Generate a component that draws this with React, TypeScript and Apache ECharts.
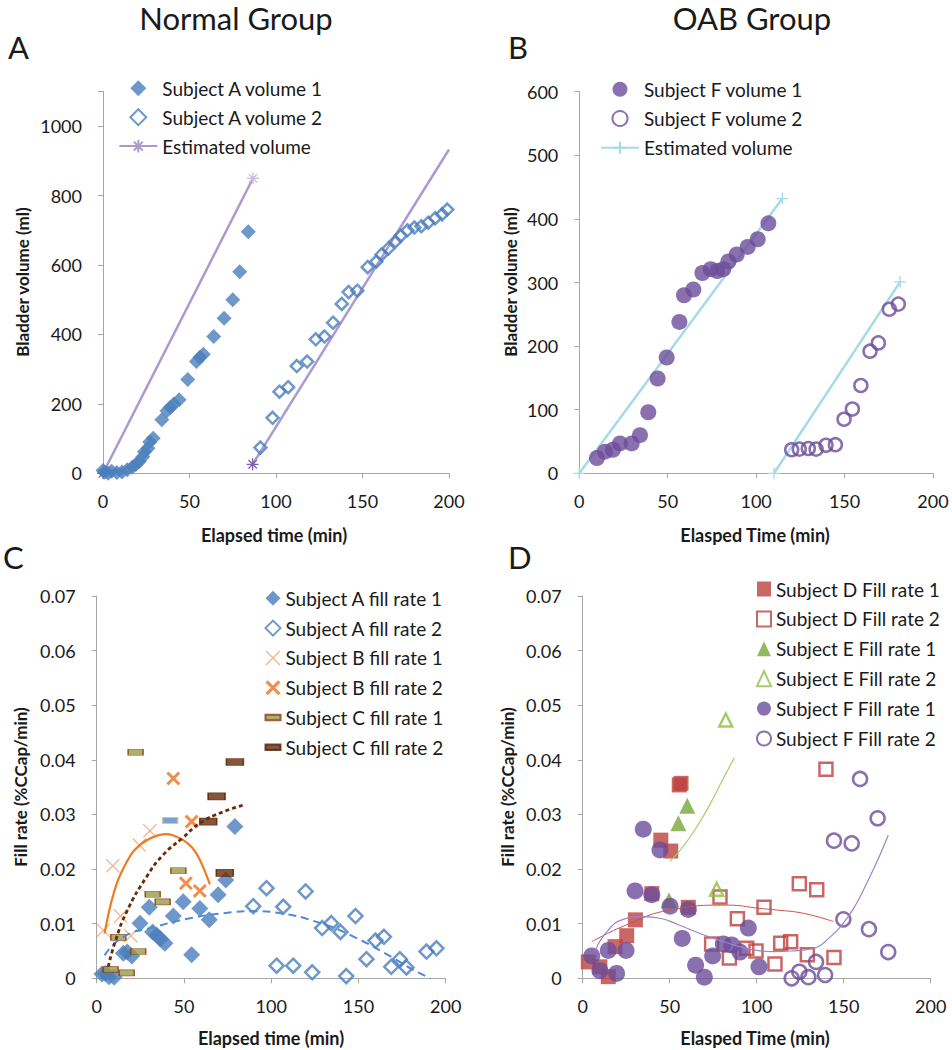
import React, { useEffect, useRef } from 'react';
import * as echarts from 'echarts';

const FONT = 'Lato, "Liberation Sans", Arial, sans-serif';
const TXT = '#1a1a1a';
const AXIS = '#a6a6a6';

// ---------- Panel A : Normal group volumes ----------
const volA1 = [[0,8],[1,3],[3,0],[5,6],[8,2],[11,4],[14,10],[17,18],[19,25],[21,34],[23,48],[24,62],[26,72],[27,90],[29,101],[34,154],[37,180],[39,190],[41,200],[44,212],[49,270],[54,322],[56,334],[58,343],[64,394],[70,447],[75,500],[79,581],[84,696]];
const volA2 = [[91,74],[98,160],[102,235],[107,248],[112,309],[118,322],[123,386],[128,394],[133,434],[138,488],[142,522],[147,526],[153,594],[158,610],[161,630],[165,648],[169,668],[172,684],[176,700],[180,708],[184,712],[188,722],[192,735],[196,746],[199,760]];
const estA1 = [[0,0],[86.7,850]];
const estA2 = [[86.5,26],[200,933]];

// ---------- Panel B : OAB group volumes ----------
const volF1 = [[10,24],[14.5,34],[19,37],[23,47],[29.6,47],[34.3,60],[39,96],[44.3,149],[49.4,182],[56.6,238],[59.2,280],[64.5,289],[69.6,315],[74.3,321],[78,318],[81.4,321],[84.3,333],[89,344],[95.2,356],[100.9,368],[106.9,393]];
const volF2 = [[120.1,37],[124.4,38],[129.5,39],[133.9,38],[139.5,44],[144.8,45],[149.7,85],[154.4,101],[159.2,138],[164.4,192],[169.1,205],[175.3,258],[180.4,266]];
const estB1 = [[0,0],[114.8,432]];
const estB2 = [[110.1,0],[181.4,301]];

// ---------- Panel C : Normal group fill rates ----------
const frA1 = [[3,0.0008],[5,0.0009],[7,0.0003],[10,0.0002],[15.3,0.0046],[17.5,0.0048],[20.1,0.0041],[24.8,0.0101],[30.1,0.013],[32,0.0085],[34.4,0.0079],[36.5,0.0072],[39.1,0.0064],[43.9,0.0114],[49.6,0.014],[54.4,0.0043],[59.1,0.0128],[64.5,0.0107],[69.6,0.0153],[74,0.018],[79.2,0.0278]];
const frA2 = [[89.7,0.0132],[97.3,0.0165],[103.1,0.0023],[106.9,0.0131],[112.6,0.0023],[119.7,0.0159],[123.5,0.0011],[129.2,0.0092],[134.4,0.0101],[139.7,0.0085],[143,0.0004],[148.3,0.0114],[154.6,0.0035],[159.8,0.0069],[164.6,0.0076],[168.8,0.0021],[173.7,0.0035],[177.5,0.002],[189,0.0049],[194.7,0.0055]];
const frB1 = [[3.8,0.0088],[9.2,0.0206],[13.7,0.0114],[19.5,0.0078],[24.4,0.0244],[30.5,0.027]];
const frB2 = [[43.9,0.0366],[51.1,0.0174],[54.4,0.0287],[59.1,0.016]];
const frC1 = [[8,0.0016],[12.4,0.0075],[17.2,0.001],[22.3,0.0414],[23.8,0.0049],[32.1,0.0154],[37.8,0.014],[42.1,0.0289],[46.8,0.0197]];
const frC2 = [[63.9,0.0287],[68.7,0.0333],[73.4,0.0193],[79.2,0.0396]];
const trendA = [[4.5,0.0042],[15.3,0.0076],[34.4,0.0095],[53.5,0.011],[72.6,0.0119],[90,0.0123],[103.5,0.012],[128.3,0.0101],[147.4,0.0076],[168.4,0.004],[181.7,0.0015],[191.3,0]];
const trendB = [[4.5,0.0082],[8,0.0135],[12,0.0178],[17,0.0212],[22,0.0236],[30.5,0.0256],[40.1,0.0264],[49.6,0.0253],[55,0.0238],[59.1,0.0217],[64.9,0.0172]];
const trendC = [[6.6,0.0021],[10.5,0.0066],[17.2,0.0122],[28.6,0.0186],[38.1,0.0226],[49.6,0.0258],[59.1,0.0284],[72.6,0.0305],[84.1,0.0317]];

// ---------- Panel D : OAB group fill rates ----------
const frD1 = [[3.2,0.003],[9.9,0.0021],[14.7,0.0003],[18.6,0.0058],[25.3,0.0078],[30.3,0.0107],[39.7,0.0155],[44.9,0.0253],[50.6,0.0233],[55.5,0.0354],[56.5,0.0357],[60.7,0.013]];
const frD2 = [[74.1,0.0063],[78.9,0.0149],[84.3,0.0037],[88.9,0.0109],[94.3,0.0055],[99.6,0.005],[104.2,0.013],[110.5,0.0026],[113.8,0.0064],[119.5,0.0067],[124.5,0.0173],[129.1,0.0043],[134.5,0.0162],[139.8,0.0383],[144.4,0.0038]];
const frE1 = [[49.6,0.0143],[55,0.0284],[60.1,0.0316]];
const frE2 = [[77,0.0163],[82.2,0.0473]];
const frF1 = [[5.2,0.0041],[9.9,0.0014],[14.7,0.0051],[19.5,0.0009],[24.9,0.0051],[30.1,0.016],[34.8,0.0273],[39.7,0.0153],[44.4,0.0235],[50.2,0.0132],[57.2,0.0073],[60.7,0.0126],[64.9,0.0024],[69.9,0.0002],[74.7,0.0041],[80.8,0.0063],[85.6,0.0061],[90.4,0.0048],[95.2,0.0092],[101.3,0.0021]];
const frF2 = [[120.1,0],[124.5,0.0012],[129.7,0.0002],[134.1,0.003],[139.3,0.0006],[144.4,0.0252],[149.8,0.0108],[154.6,0.0247],[159.4,0.0365],[164.5,0.009],[169.5,0.0293],[175.6,0.0048]];
const trendD = [[5.2,0.0067],[25.3,0.0098],[50.2,0.0125],[82.8,0.0134],[101.9,0.0128],[111.5,0.0125],[126.8,0.0119],[144,0.0104]];
const trendE = [[50.2,0.0214],[59.8,0.025],[71.3,0.0308],[80.8,0.0366],[87.1,0.0404]];
const trendF = [[7.1,0.005],[13.8,0.0085],[23.3,0.0108],[35,0.0113],[44.4,0.011],[55,0.0098],[67.4,0.0082],[80,0.0068],[90.4,0.0058],[100,0.0051],[109.5,0.0049],[120,0.005],[132.5,0.0055],[142,0.0075],[149.8,0.0101],[157,0.0135],[163.2,0.0174],[170,0.022],[175.6,0.0262]];

// ---------- colours ----------
const BLUE = '#4a7ebb';
const LAV = '#ab9ad0';
const PURPLE = '#6b4c9a';
const CYAN = '#a5dbe9';
const ORANGE_L = '#f49a62';
const ORANGE = '#ee6f1e';
const OLIVE = '#9a9b45';
const BROWN = '#6a2b0a';
const RED = '#bb413e';
const GREEN = '#77a83a';
const GREEN_L = '#8dc143';
const NOFILL = 'rgba(255,255,255,0)';

function xPath(d: number) {
  return `path://M0,${d}L${d},0L50,${50 - d}L${100 - d},0L100,${d}L${50 + d},50L100,${100 - d}L${100 - d},100L50,${50 + d}L${d},100L0,${100 - d}L${50 - d},50Z`;
}
const STAR = 'path://M5,0V10M0,5H10M1.5,1.5L8.5,8.5M1.5,8.5L8.5,1.5';
const PLUS = 'path://M5,0V10M0,5H10';
const DASH = 'path://M0,0H28V10H0Z';
const DIAMOND_ICON = 'path://M5,0L10,5L5,10L0,5Z';

function buildOption(): any {
  const grids = [
    { left: 103, top: 91.5, width: 346, height: 381.8 },
    { left: 579.3, top: 91.7, width: 353.7, height: 381.6 },
    { left: 96.7, top: 596, width: 349, height: 382.3 },
    { left: 582.7, top: 596, width: 348, height: 382.3 },
  ];
  const baseAxis = {
    type: 'value',
    axisLine: { show: true, onZero: false, lineStyle: { color: AXIS, width: 1 } },
    axisTick: { show: true, length: 5, lineStyle: { color: AXIS } },
    splitLine: { show: false },
  };
  const xAxes = [0, 1, 2, 3].map((i) => ({
    ...baseAxis,
    gridIndex: i,
    min: 0,
    max: 200,
    interval: 50,
    axisLabel: { fontSize: 18, fontFamily: FONT, color: TXT, margin: 19 },
  }));
  const fr = (v: number) => (v === 0 ? '0' : v.toFixed(2));
  const yAxes = [
    { ...baseAxis, gridIndex: 0, min: 0, max: 1100, interval: 200,
      axisLabel: { fontSize: 18, fontFamily: FONT, color: TXT, margin: 21, formatter: (v: number) => (v > 1000 ? '' : String(v)) } },
    { ...baseAxis, gridIndex: 1, min: 0, max: 600, interval: 100,
      axisLabel: { fontSize: 18, fontFamily: FONT, color: TXT, margin: 21 } },
    { ...baseAxis, gridIndex: 2, min: 0, max: 0.07, interval: 0.01,
      axisLabel: { fontSize: 18, fontFamily: FONT, color: TXT, margin: 21, formatter: fr } },
    { ...baseAxis, gridIndex: 3, min: 0, max: 0.07, interval: 0.01,
      axisLabel: { fontSize: 18, fontFamily: FONT, color: TXT, margin: 21, formatter: fr } },
  ];

  const sc = (name: string, g: number, data: any[], symbol: string, size: any, itemStyle: any, z = 3) => ({
    name, type: 'scatter', xAxisIndex: g, yAxisIndex: g, data, symbol, symbolSize: size, itemStyle, clip: false, z,
  });
  const trend = (g: number, data: number[][], color: string, width: number, type: any, smooth = 0.5) => ({
    type: 'line', xAxisIndex: g, yAxisIndex: g, data, smooth, symbol: 'none', silent: true, z: 4,
    lineStyle: { color, width, type },
  });
  const est = (name: string, g: number, data: number[][], color: string, symbol: string, marks: any[]) => ({
    name, type: 'line', xAxisIndex: g, yAxisIndex: g, symbol, symbolSize: 12, showSymbol: true,
    lineStyle: { color, width: 2.5 },
    itemStyle: { color, borderColor: color, borderWidth: 1.3 },
    data: data.map((p, i) => ({ value: p, ...marks[i] })),
    z: 2,
  });

  const series: any[] = [
    // A
    sc('Subject A volume 1', 0, volA1, 'diamond', 15, { color: BLUE }),
    sc('Subject A volume 2', 0, volA2, 'diamond', 12, { color: NOFILL, borderColor: BLUE, borderWidth: 2.5 }),
    est('Estimated volume', 0, estA1, LAV, STAR, [
      { itemStyle: { color: '#7d5fae', borderColor: '#7d5fae' } },
      { itemStyle: { color: '#cdbde3', borderColor: '#cdbde3' } },
    ]),
    est('Estimated volume', 0, estA2, LAV, STAR, [
      { itemStyle: { color: '#7d5fae', borderColor: '#7d5fae' } },
      { symbol: 'none' },
    ]),
    // B
    sc('Subject F volume 1', 1, volF1, 'circle', 16, { color: PURPLE }),
    sc('Subject F volume 2', 1, volF2, 'circle', 13, { color: NOFILL, borderColor: PURPLE, borderWidth: 2.5 }),
    est('Estimated volume B', 1, estB1, CYAN, PLUS, [{}, {}]),
    est('Estimated volume B', 1, estB2, CYAN, PLUS, [{}, {}]),
    // C
    sc('Subject A fill rate 1', 2, frA1, 'diamond', 17, { color: BLUE }),
    sc('Subject A fill rate 2', 2, frA2, 'diamond', 14, { color: NOFILL, borderColor: BLUE, borderWidth: 2.5 }),
    sc('Subject B fill rate 1', 2, frB1, xPath(6), 14, { color: ORANGE_L }),
    sc('Subject B fill rate 2', 2, frB2, xPath(15), 14, { color: ORANGE }),
    sc('Subject C fill rate 1', 2, frC1.map((p) => (p[1] === 0.0289 ? { value: p, itemStyle: { color: '#5a8ac6', borderColor: '#c8b8a0' } } : p)), DASH, [15, 6], { color: OLIVE, borderColor: '#8a3a12', borderWidth: 1 }),
    sc('Subject C fill rate 2', 2, frC2, DASH, [17, 7], { color: BROWN, borderColor: '#4e1e05', borderWidth: 1 }),
    trend(2, trendA, '#4f8ad6', 2, [8, 5]),
    trend(2, trendB, '#f07a20', 2.2, 'solid', 0.35),
    trend(2, trendC, BROWN, 2.8, [4, 3]),
    // D
    sc('Subject D Fill rate 1', 3, frD1, 'rect', 15, { color: RED }),
    sc('Subject D Fill rate 2', 3, frD2, 'rect', 13, { color: NOFILL, borderColor: RED, borderWidth: 2.5 }),
    sc('Subject E Fill rate 1', 3, frE1, 'triangle', 16, { color: GREEN }),
    sc('Subject E Fill rate 2', 3, frE2, 'triangle', 13, { color: NOFILL, borderColor: GREEN_L, borderWidth: 2.5 }),
    sc('Subject F Fill rate 1', 3, frF1, 'circle', 17, { color: PURPLE }),
    sc('Subject F Fill rate 2', 3, frF2, 'circle', 14, { color: NOFILL, borderColor: PURPLE, borderWidth: 2.5 }),
    trend(3, trendD, '#d0504a', 1, 'solid'),
    trend(3, trendE, '#a3d162', 1.2, 'solid'),
    trend(3, trendF, '#9a84cc', 1.2, 'solid'),
  ];

  const legendBase = {
    orient: 'vertical', padding: 0, selectedMode: false,
    textStyle: { fontSize: 19, fontFamily: FONT, color: TXT, lineHeight: 19 },
  };
  const legends = [
    { ...legendBase, left: 118.3, top: 78.8, itemWidth: 38, itemHeight: 16, itemGap: 9.9,
      data: [
        { name: 'Subject A volume 1', icon: DIAMOND_ICON },
        { name: 'Subject A volume 2', icon: DIAMOND_ICON },
        'Estimated volume',
      ] },
    { ...legendBase, left: 600, top: 79.8, itemWidth: 38, itemHeight: 15, itemGap: 10.2,
      formatter: (n: string) => (n === 'Estimated volume B' ? 'Estimated volume' : n),
      data: ['Subject F volume 1', 'Subject F volume 2', 'Estimated volume B'] },
    { ...legendBase, left: 264.5, top: 588.8, itemWidth: 15, itemHeight: 15, itemGap: 10.8,
      data: ['Subject A fill rate 1', 'Subject A fill rate 2', 'Subject B fill rate 1', 'Subject B fill rate 2', 'Subject C fill rate 1', 'Subject C fill rate 2'] },
    { ...legendBase, left: 756, top: 579.5, itemWidth: 14, itemHeight: 15, itemGap: 10.9,
      data: ['Subject D Fill rate 1', 'Subject D Fill rate 2', 'Subject E Fill rate 1', 'Subject E Fill rate 2', 'Subject F Fill rate 1', 'Subject F Fill rate 2'] },
  ];

  const txt = (text: string, x: number, y: number, size: number, opts: any = {}) => ({
    type: 'text', x, y, rotation: opts.rotation || 0, silent: true,
    style: { text, fontSize: size, fontFamily: FONT, fontWeight: opts.bold ? 'bold' : 'normal', fill: TXT,
      align: opts.align || 'center', verticalAlign: 'middle' },
  });
  const graphic = [
    txt('Normal Group', 236, 18, 31),
    txt('OAB Group', 752, 18, 31),
    txt('A', 8, 47, 31, { align: 'left' }),
    txt('B', 508, 47, 31, { align: 'left' }),
    txt('C', 3, 557, 31, { align: 'left' }),
    txt('D', 508, 557, 31, { align: 'left' }),
    txt('Bladder volume (ml)', 22, 282, 17, { bold: true, rotation: Math.PI / 2 }),
    txt('Bladder volume (ml)', 510, 282, 17, { bold: true, rotation: Math.PI / 2 }),
    txt('Fill rate (%CCap/min)', 20, 787, 17, { bold: true, rotation: Math.PI / 2 }),
    txt('Fill rate (%CCap/min)', 507, 787, 17, { bold: true, rotation: Math.PI / 2 }),
    txt('Elapsed time (min)', 274, 535, 18, { bold: true }),
    txt('Elasped Time (min)', 755, 535, 18, { bold: true }),
    txt('Elapsed time (min)', 271, 1038, 18, { bold: true }),
    txt('Elasped Time (min)', 755, 1038, 18, { bold: true }),
  ];

  return {
    animation: false,
    backgroundColor: '#ffffff',
    textStyle: { fontFamily: FONT },
    grid: grids,
    xAxis: xAxes,
    yAxis: yAxes,
    legend: legends,
    series,
    graphic,
  };
}

export default function App() {
  const ref = useRef<HTMLDivElement>(null);
  useEffect(() => {
    if (!ref.current) return;
    const chart = echarts.init(ref.current, null, { renderer: 'svg' });
    chart.setOption(buildOption());
    return () => chart.dispose();
  }, []);
  return (
    <div
      ref={ref}
      style={{ position: 'absolute', left: 0, top: 0, width: 952, height: 1050, background: '#fff' }}
    />
  );
}
